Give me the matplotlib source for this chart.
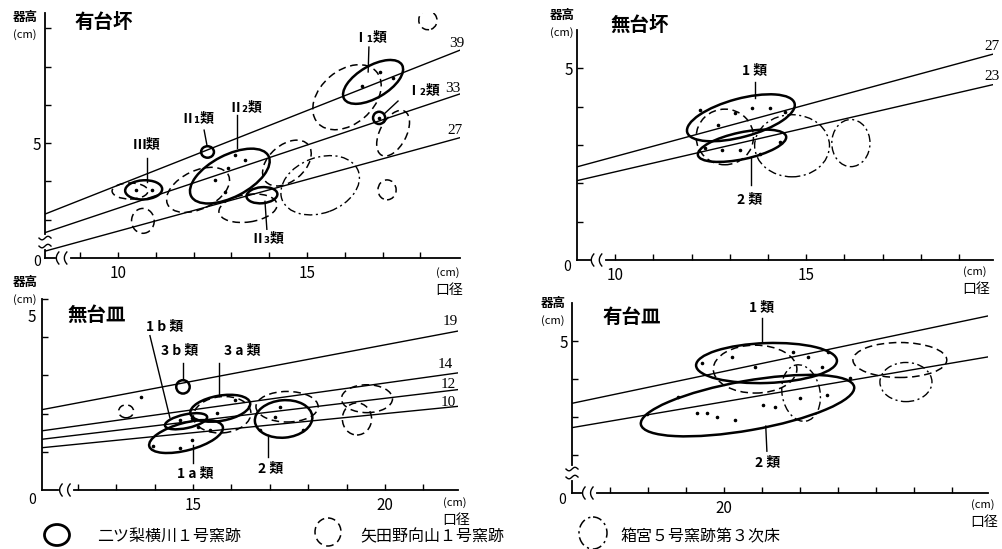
import numpy as np
import matplotlib.pyplot as plt
from matplotlib.patches import Ellipse

plt.rcParams['font.family'] = ['Noto Sans CJK JP', 'DejaVu Sans']

W, H = 1003, 549

# ------------------------------------------------------------
# data  (口径 cm, 器高 cm) ; ellipses = (cx, cy, width, height, angle)
# ------------------------------------------------------------
# 有台坏
yt_lines = [39, 33, 27]
yt_solid = [(10.68, 3.78, 0.98, 0.50, 3), (12.37, 4.77, 0.34, 0.30, 0),
            (12.96, 4.14, 2.30, 1.10, 27), (13.81, 3.64, 0.82, 0.42, 5),
            (16.75, 6.60, 1.77, 0.84, 30), (16.91, 5.66, 0.32, 0.32, 0)]
yt_dash = [(10.32, 3.75, 0.95, 0.42, 0), (10.66, 2.97, 0.60, 0.65, 0),
           (12.12, 3.78, 1.78, 1.00, 25), (14.47, 4.48, 1.48, 0.95, 40),
           (13.44, 3.30, 1.55, 0.72, 8), (16.06, 6.20, 2.05, 1.40, 40),
           (17.28, 5.26, 1.30, 0.70, 62), (18.20, 8.21, 0.48, 0.50, 20),
           (17.12, 3.78, 0.48, 0.52, 0)]
yt_dashdot = [(15.35, 3.90, 2.15, 1.45, 20)]
yt_dots_x = [10.48, 10.90, 13.10, 12.91, 13.36, 12.57, 12.83, 16.93, 17.28, 16.46, 16.91]
yt_dots_y = [3.78, 3.78, 4.69, 4.35, 4.56, 4.04, 3.72, 6.86, 6.70, 6.49, 5.66]

# 無台坏
mt_lines = [27, 23]
mt_solid = [(13.29, 3.71, 2.91, 1.00, 15), (13.32, 2.98, 2.36, 0.70, 12)]
mt_dash = [(12.87, 3.21, 1.50, 1.45, 0)]
mt_dashdot = [(14.63, 2.98, 1.96, 1.62, 0), (16.17, 3.05, 1.00, 1.23, 0)]
mt_dots_x = [12.22, 12.69, 13.14, 13.58, 14.05, 14.45, 12.35, 12.80, 13.27, 13.79, 14.31]
mt_dots_y = [3.92, 3.52, 3.84, 3.97, 3.97, 3.86, 2.92, 2.87, 2.87, 2.77, 3.08]

# 無台皿
ms_lines = [19, 14, 12, 10]
ms_solid = [(14.74, 2.70, 0.35, 0.35, 0), (15.71, 2.14, 1.58, 0.66, 10),
            (14.82, 1.80, 1.12, 0.36, 12), (14.82, 1.40, 1.98, 0.72, 15),
            (17.36, 1.86, 1.50, 0.98, 5)]
ms_dash = [(13.26, 2.06, 0.39, 0.34, 0), (15.76, 1.97, 1.50, 0.95, 5),
           (17.45, 2.18, 1.62, 0.80, 0), (19.53, 2.39, 1.33, 0.73, 0),
           (19.27, 1.86, 0.76, 0.84, 0)]
ms_dashdot = []
ms_dots_x = [13.65, 13.96, 14.66, 14.98, 15.13, 15.44, 14.66, 14.98, 15.63, 16.10, 17.14, 16.75, 17.87, 17.27]
ms_dots_y = [2.44, 1.15, 1.10, 1.31, 1.65, 1.57, 1.84, 1.89, 2.02, 2.36, 1.92, 1.57, 1.57, 2.18]

# 有台皿
ys_lines = [21, 17]
ys_solid = [(21.12, 4.42, 3.71, 1.05, 2), (20.62, 3.30, 5.70, 1.30, 10)]
ys_dash = [(20.82, 4.26, 2.20, 1.26, 0), (24.63, 4.50, 2.47, 0.92, 0)]
ys_dashdot = [(22.03, 3.63, 1.00, 1.50, 10), (24.79, 3.92, 1.37, 1.03, 0)]
ys_dots_x = [19.42, 20.21, 20.82, 21.82, 22.21, 22.74, 22.58, 18.79, 17.97, 19.29,
             19.55, 19.82, 20.29, 21.03, 21.34, 22.00, 22.71, 23.32]
ys_dots_y = [4.42, 4.58, 4.32, 4.71, 4.58, 4.71, 4.32, 3.53, 3.08, 3.11,
             3.11, 3.00, 2.92, 3.32, 3.26, 3.50, 3.58, 4.03]

legend_names = ['二ツ梨横川１号窯跡', '矢田野向山１号窯跡', '箱宮５号窯跡第３次床']

# ------------------------------------------------------------
STY = {'solid': dict(lw=1.8, ls='-'),
       'dash': dict(lw=1.1, ls=(0, (5, 3))),
       'dashdot': dict(lw=1.0, ls=(0, (6, 2.5, 1.5, 2.5)))}

fig = plt.figure(figsize=(W / 100, H / 100), dpi=100)


def rect(l, b, r, t):
    return [l / W, 1 - b / H, (r - l) / W, (b - t) / H]


def ftxt(px, py, s, **kw):
    kw.setdefault('ha', 'center')
    kw.setdefault('va', 'center')
    fig.text(px / W, 1 - py / H, s, **kw)


def brk_x(ax, f):
    bb = ax.get_position()
    w, h = bb.width * W, bb.height * H
    s = np.linspace(-1, 1, 12)
    ax.plot([f - 5 / w, f + 5 / w], [0, 0], color='white', lw=3,
            transform=ax.transAxes, clip_on=False, zorder=8)
    for c in (f - 4 / w, f + 4 / w):
        ax.plot(c - 2.5 / w * (1 - s ** 2), s * 6 / h, color='black', lw=1,
                transform=ax.transAxes, clip_on=False, zorder=9)


def brk_y(ax, f):
    bb = ax.get_position()
    w, h = bb.width * W, bb.height * H
    s = np.linspace(-1, 1, 12)
    ax.plot([0, 0], [f - 5 / h, f + 5 / h], color='white', lw=3,
            transform=ax.transAxes, clip_on=False, zorder=8)
    for c in (f - 4 / h, f + 4 / h):
        ax.plot(s * 6 / w, c + 1.8 / h * np.sin(np.pi * s), color='black', lw=1,
                transform=ax.transAxes, clip_on=False, zorder=9)


def panel(box, xlim, ylim, lines, solid, dash, dashdot, dx, dy, xt, xlab, yt, lab5):
    ax = fig.add_axes(rect(*box))
    ax.set_xlim(*xlim)
    ax.set_ylim(*ylim)
    for sp in ('top', 'right'):
        ax.spines[sp].set_visible(False)
    for sp in ('left', 'bottom'):
        ax.spines[sp].set_linewidth(1.3)
    xs = np.array(xlim)
    for k in lines:
        ax.plot(xs, xs * k / 100, color='black', lw=1.0, zorder=2)
    for kind, items in (('solid', solid), ('dash', dash), ('dashdot', dashdot)):
        for cx, cy, ew, eh, ang in items:
            ax.add_patch(Ellipse((cx, cy), ew, eh, angle=ang, fill=False,
                                 color='black', zorder=3, **STY[kind]))
    ax.scatter(dx, dy, s=2.5, color='black', zorder=4)
    ax.set_xticks(xt)
    ax.set_xticklabels([str(v) if v in xlab else '' for v in xt])
    ax.set_yticks(yt)
    ax.set_yticklabels([str(v) if (v == 5 and lab5) else '' for v in yt])
    ax.tick_params(direction='in', length=4, width=1, labelsize=11)
    ax.tick_params(axis='x', pad=5)
    ax.tick_params(axis='y', pad=3)
    return ax


def labels(ax, items, size=10):
    for txt, x, y, (x0, y0), (x1, y1) in items:
        ax.text(x, y, txt, ha='center', va='center', fontsize=size, fontweight='bold')
        ax.plot([x0, x1], [y0, y1], color='black', lw=1.0, zorder=5)


def nums(ax, items):
    for txt, x, y in items:
        ax.text(x, y, txt, ha='center', va='center', fontsize=11,
                family='Liberation Serif')


# ---- 有台坏 ----
a1 = panel((45, 258, 460, 13), (8.07, 19.05), (2.0, 8.4), yt_lines,
           yt_solid, yt_dash, yt_dashdot, yt_dots_x, yt_dots_y,
           list(range(9, 19)), (10, 15), list(range(3, 9)), True)
labels(a1, [('Ⅲ類', 10.77, 4.98, (10.77, 4.61), (10.77, 3.98)),
            ('Ⅱ₁類', 12.09, 5.66, (12.28, 5.34), (12.36, 4.92)),
            ('Ⅱ₂類', 13.36, 5.94, (13.15, 5.73), (13.15, 4.87)),
            ('Ⅱ₃類', 13.94, 2.52, (13.89, 3.48), (13.94, 2.75)),
            ('Ⅰ₁類', 16.67, 7.77, (16.64, 7.51), (16.62, 6.86)),
            ('Ⅰ₂類', 18.07, 6.39, (17.41, 6.10), (17.04, 5.76))])
nums(a1, [('39', 18.97, 7.61), ('33', 18.86, 6.44), ('27', 18.92, 5.34)])
brk_x(a1, 0.043)
brk_y(a1, 0.065)

# ---- 無台坏 ----
a2 = panel((577, 260, 993, 30), (9.0, 19.89), (0, 6.0), mt_lines,
           mt_solid, mt_dash, mt_dashdot, mt_dots_x, mt_dots_y,
           list(range(10, 20)), (10, 15), list(range(1, 6)), True)
labels(a2, [('1 類', 13.66, 4.96, (13.65, 4.65), (13.65, 4.23)),
            ('2 類', 13.53, 1.59, (13.56, 2.69), (13.56, 1.96))])
nums(a2, [('27', 19.87, 5.56), ('23', 19.87, 4.78)])
brk_x(a2, 0.05)

# ---- 無台皿 ----
a3 = panel((42, 490, 458, 299), (11.07, 21.9), (0, 5.0), ms_lines,
           ms_solid, ms_dash, ms_dashdot, ms_dots_x, ms_dots_y,
           list(range(12, 22)), (15, 20), list(range(1, 6)), False)
labels(a3, [('1 b 類', 14.27, 4.28, (13.88, 4.04), (14.40, 1.89)),
            ('3 b 類', 14.66, 3.67, (14.74, 3.33), (14.74, 2.87)),
            ('3 a 類', 16.28, 3.67, (15.68, 3.33), (15.68, 2.47)),
            ('1 a 類', 15.05, 0.45, (15.00, 1.18), (15.00, 0.71)),
            ('2 類', 17.01, 0.58, (16.96, 1.44), (16.96, 0.87))])
nums(a3, [('19', 21.70, 4.41), ('14', 21.56, 3.28), ('12', 21.64, 2.76), ('10', 21.64, 2.28)])
brk_x(a3, 0.058)

# ---- 有台皿 ----
a4 = panel((572, 493, 988, 303), (16.0, 26.95), (1.0, 6.0), ys_lines,
           ys_solid, ys_dash, ys_dashdot, ys_dots_x, ys_dots_y,
           list(range(17, 27)), (20,), list(range(2, 6)), True)
labels(a4, [('1 類', 21.00, 5.89, (21.00, 5.61), (21.00, 4.97)),
            ('2 類', 21.16, 1.82, (21.10, 2.76), (21.13, 2.10))])
brk_x(a4, 0.041)
brk_y(a4, 0.105)

# ---- titles, units, origins ----
for t, px, py in (('有台坏', 104, 22), ('無台坏', 640, 25), ('無台皿', 97, 315), ('有台皿', 632, 317)):
    ftxt(px, py, t, fontsize=14, fontweight='bold')
for px, py in ((25, 17), (562, 15), (25, 282), (553, 303)):
    ftxt(px, py, '器高', fontsize=9, fontweight='bold')
    ftxt(px, py + 18, '(cm)', fontsize=8)
for px, py in ((448, 273), (975, 272), (455, 503), (983, 505)):
    ftxt(px, py, '(cm)', fontsize=8)
    ftxt(px + 1, py + 17, '口径', fontsize=10)
for px, py in ((37, 262), (567, 267), (32, 500), (562, 500)):
    ftxt(px, py, '0', fontsize=10)
ftxt(32, 317, '5', fontsize=11)

# ---- key ----
key = fig.add_axes([0, 0, 1, 1], zorder=-1)
key.set_xlim(0, W)
key.set_ylim(H, 0)
key.axis('off')
for (kind, cx, cy, ew, eh), name, tx in zip(
        (('solid', 57, 535, 25, 21), ('dash', 328, 532, 26, 28), ('dashdot', 593, 533, 28, 32)),
        legend_names, (97, 360, 620)):
    st = dict(STY[kind])
    st['lw'] = 2.0 if kind == 'solid' else 1.1
    key.add_patch(Ellipse((cx, cy), ew, eh, fill=False, color='black', **st))
    key.text(tx, 537, name, ha='left', va='center', fontsize=11.5)

fig.savefig('out.png', dpi=100)
